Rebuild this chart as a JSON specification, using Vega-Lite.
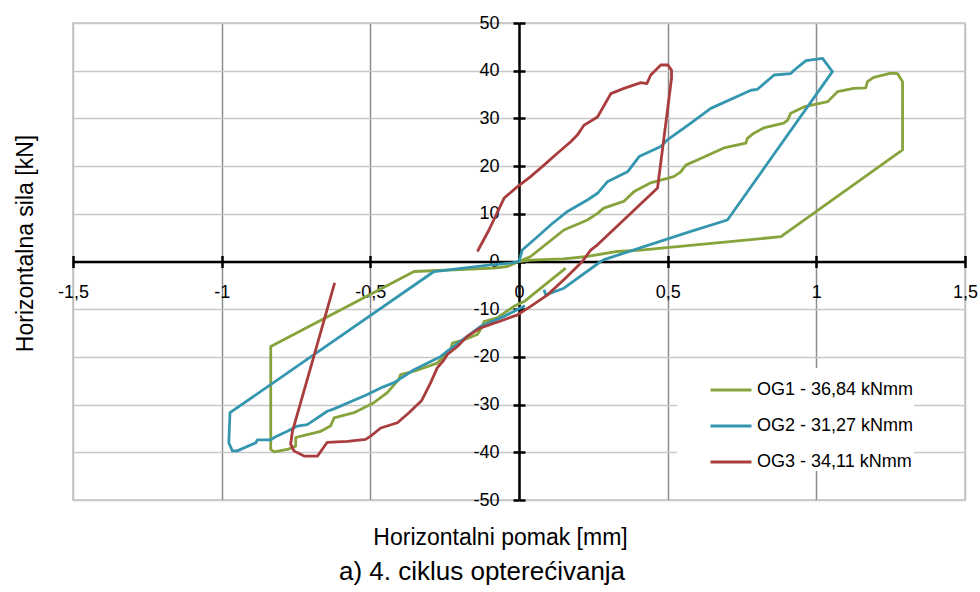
{
  "$schema": "https://vega.github.io/schema/vega-lite/v6.json",
  "width": 892,
  "height": 477,
  "autosize": {"type": "none"},
  "padding": {"left": 73, "top": 23, "right": 15, "bottom": 92},
  "background": "white",
  "config": {
    "view": {"stroke": "#c0c0c0", "strokeWidth": 1.5},
    "font": "Liberation Sans",
    "locale": {"number": {"decimal": ",", "thousands": ".", "grouping": [3], "currency": ["", " €"], "minus": "-"}}
  },
  "title": {"text": "a) 4. ciklus opterećivanja", "orient": "bottom", "fontSize": 26, "fontWeight": "normal", "font": "Liberation Sans", "color": "black", "offset": 9, "anchor": "middle", "dx": -37},
  "data": {"values": [
    {"s":"OG1 - 36,84 kNmm","i":0,"x":0.157,"y":-1.4},
    {"s":"OG1 - 36,84 kNmm","i":1,"x":0.017,"y":-8.4},
    {"s":"OG1 - 36,84 kNmm","i":2,"x":-0.017,"y":-9.4},
    {"s":"OG1 - 36,84 kNmm","i":3,"x":-0.073,"y":-11.8},
    {"s":"OG1 - 36,84 kNmm","i":4,"x":-0.118,"y":-12.6},
    {"s":"OG1 - 36,84 kNmm","i":5,"x":-0.123,"y":-13.6},
    {"s":"OG1 - 36,84 kNmm","i":6,"x":-0.14,"y":-15.3},
    {"s":"OG1 - 36,84 kNmm","i":7,"x":-0.185,"y":-16.4},
    {"s":"OG1 - 36,84 kNmm","i":8,"x":-0.224,"y":-17.1},
    {"s":"OG1 - 36,84 kNmm","i":9,"x":-0.23,"y":-18.5},
    {"s":"OG1 - 36,84 kNmm","i":10,"x":-0.275,"y":-21.3},
    {"s":"OG1 - 36,84 kNmm","i":11,"x":-0.353,"y":-23.0},
    {"s":"OG1 - 36,84 kNmm","i":12,"x":-0.398,"y":-23.7},
    {"s":"OG1 - 36,84 kNmm","i":13,"x":-0.404,"y":-24.7},
    {"s":"OG1 - 36,84 kNmm","i":14,"x":-0.443,"y":-27.5},
    {"s":"OG1 - 36,84 kNmm","i":15,"x":-0.488,"y":-29.6},
    {"s":"OG1 - 36,84 kNmm","i":16,"x":-0.555,"y":-31.7},
    {"s":"OG1 - 36,84 kNmm","i":17,"x":-0.622,"y":-32.8},
    {"s":"OG1 - 36,84 kNmm","i":18,"x":-0.634,"y":-34.5},
    {"s":"OG1 - 36,84 kNmm","i":19,"x":-0.667,"y":-35.6},
    {"s":"OG1 - 36,84 kNmm","i":20,"x":-0.712,"y":-36.3},
    {"s":"OG1 - 36,84 kNmm","i":21,"x":-0.751,"y":-36.9},
    {"s":"OG1 - 36,84 kNmm","i":22,"x":-0.751,"y":-38.7},
    {"s":"OG1 - 36,84 kNmm","i":23,"x":-0.779,"y":-39.4},
    {"s":"OG1 - 36,84 kNmm","i":24,"x":-0.824,"y":-39.9},
    {"s":"OG1 - 36,84 kNmm","i":25,"x":-0.835,"y":-39.4},
    {"s":"OG1 - 36,84 kNmm","i":26,"x":-0.835,"y":-17.8},
    {"s":"OG1 - 36,84 kNmm","i":27,"x":-0.353,"y":-2.1},
    {"s":"OG1 - 36,84 kNmm","i":28,"x":-0.084,"y":-1.4},
    {"s":"OG1 - 36,84 kNmm","i":29,"x":-0.039,"y":-1.05},
    {"s":"OG1 - 36,84 kNmm","i":30,"x":0.0,"y":0.0},
    {"s":"OG1 - 36,84 kNmm","i":31,"x":0.039,"y":1.05},
    {"s":"OG1 - 36,84 kNmm","i":32,"x":0.151,"y":6.6},
    {"s":"OG1 - 36,84 kNmm","i":33,"x":0.23,"y":8.7},
    {"s":"OG1 - 36,84 kNmm","i":34,"x":0.264,"y":10.1},
    {"s":"OG1 - 36,84 kNmm","i":35,"x":0.285,"y":11.2},
    {"s":"OG1 - 36,84 kNmm","i":36,"x":0.352,"y":12.6},
    {"s":"OG1 - 36,84 kNmm","i":37,"x":0.386,"y":14.6},
    {"s":"OG1 - 36,84 kNmm","i":38,"x":0.443,"y":16.5},
    {"s":"OG1 - 36,84 kNmm","i":39,"x":0.52,"y":17.8},
    {"s":"OG1 - 36,84 kNmm","i":40,"x":0.544,"y":18.8},
    {"s":"OG1 - 36,84 kNmm","i":41,"x":0.561,"y":20.2},
    {"s":"OG1 - 36,84 kNmm","i":42,"x":0.611,"y":21.6},
    {"s":"OG1 - 36,84 kNmm","i":43,"x":0.689,"y":23.8},
    {"s":"OG1 - 36,84 kNmm","i":44,"x":0.763,"y":24.8},
    {"s":"OG1 - 36,84 kNmm","i":45,"x":0.768,"y":25.8},
    {"s":"OG1 - 36,84 kNmm","i":46,"x":0.79,"y":26.9},
    {"s":"OG1 - 36,84 kNmm","i":47,"x":0.823,"y":28.0},
    {"s":"OG1 - 36,84 kNmm","i":48,"x":0.89,"y":29.0},
    {"s":"OG1 - 36,84 kNmm","i":49,"x":0.903,"y":29.6},
    {"s":"OG1 - 36,84 kNmm","i":50,"x":0.914,"y":31.1},
    {"s":"OG1 - 36,84 kNmm","i":51,"x":0.958,"y":32.4},
    {"s":"OG1 - 36,84 kNmm","i":52,"x":1.038,"y":33.5},
    {"s":"OG1 - 36,84 kNmm","i":53,"x":1.049,"y":34.2},
    {"s":"OG1 - 36,84 kNmm","i":54,"x":1.071,"y":35.6},
    {"s":"OG1 - 36,84 kNmm","i":55,"x":1.126,"y":36.3},
    {"s":"OG1 - 36,84 kNmm","i":56,"x":1.166,"y":36.4},
    {"s":"OG1 - 36,84 kNmm","i":57,"x":1.172,"y":37.7},
    {"s":"OG1 - 36,84 kNmm","i":58,"x":1.193,"y":38.6},
    {"s":"OG1 - 36,84 kNmm","i":59,"x":1.251,"y":39.5},
    {"s":"OG1 - 36,84 kNmm","i":60,"x":1.273,"y":39.4},
    {"s":"OG1 - 36,84 kNmm","i":61,"x":1.29,"y":37.7},
    {"s":"OG1 - 36,84 kNmm","i":62,"x":1.29,"y":23.4},
    {"s":"OG1 - 36,84 kNmm","i":63,"x":0.881,"y":5.2},
    {"s":"OG1 - 36,84 kNmm","i":64,"x":0.409,"y":2.4},
    {"s":"OG1 - 36,84 kNmm","i":65,"x":0.331,"y":2.1},
    {"s":"OG1 - 36,84 kNmm","i":66,"x":0.23,"y":1.05},
    {"s":"OG1 - 36,84 kNmm","i":67,"x":0.15,"y":0.55},
    {"s":"OG1 - 36,84 kNmm","i":68,"x":0.04,"y":0.3},
    {"s":"OG1 - 36,84 kNmm","i":69,"x":0.0,"y":0.0},

    {"s":"OG2 - 31,27 kNmm","i":0,"x":0.02,"y":-9.3},
    {"s":"OG2 - 31,27 kNmm","i":1,"x":-0.05,"y":-11.5},
    {"s":"OG2 - 31,27 kNmm","i":2,"x":-0.129,"y":-13.6},
    {"s":"OG2 - 31,27 kNmm","i":3,"x":-0.241,"y":-18.8},
    {"s":"OG2 - 31,27 kNmm","i":4,"x":-0.263,"y":-19.9},
    {"s":"OG2 - 31,27 kNmm","i":5,"x":-0.353,"y":-22.7},
    {"s":"OG2 - 31,27 kNmm","i":6,"x":-0.42,"y":-25.4},
    {"s":"OG2 - 31,27 kNmm","i":7,"x":-0.465,"y":-26.5},
    {"s":"OG2 - 31,27 kNmm","i":8,"x":-0.51,"y":-27.9},
    {"s":"OG2 - 31,27 kNmm","i":9,"x":-0.622,"y":-30.9},
    {"s":"OG2 - 31,27 kNmm","i":10,"x":-0.645,"y":-31.4},
    {"s":"OG2 - 31,27 kNmm","i":11,"x":-0.712,"y":-34.2},
    {"s":"OG2 - 31,27 kNmm","i":12,"x":-0.746,"y":-34.5},
    {"s":"OG2 - 31,27 kNmm","i":13,"x":-0.779,"y":-35.6},
    {"s":"OG2 - 31,27 kNmm","i":14,"x":-0.824,"y":-36.9},
    {"s":"OG2 - 31,27 kNmm","i":15,"x":-0.835,"y":-37.4},
    {"s":"OG2 - 31,27 kNmm","i":16,"x":-0.88,"y":-37.4},
    {"s":"OG2 - 31,27 kNmm","i":17,"x":-0.885,"y":-38.0},
    {"s":"OG2 - 31,27 kNmm","i":18,"x":-0.948,"y":-39.7},
    {"s":"OG2 - 31,27 kNmm","i":19,"x":-0.964,"y":-39.7},
    {"s":"OG2 - 31,27 kNmm","i":20,"x":-0.976,"y":-38.0},
    {"s":"OG2 - 31,27 kNmm","i":21,"x":-0.972,"y":-31.7},
    {"s":"OG2 - 31,27 kNmm","i":22,"x":-0.286,"y":-2.1},
    {"s":"OG2 - 31,27 kNmm","i":23,"x":-0.095,"y":-0.7},
    {"s":"OG2 - 31,27 kNmm","i":24,"x":-0.022,"y":-0.3},
    {"s":"OG2 - 31,27 kNmm","i":25,"x":0.0,"y":0.0},
    {"s":"OG2 - 31,27 kNmm","i":26,"x":0.011,"y":2.4},
    {"s":"OG2 - 31,27 kNmm","i":27,"x":0.062,"y":5.2},
    {"s":"OG2 - 31,27 kNmm","i":28,"x":0.107,"y":7.7},
    {"s":"OG2 - 31,27 kNmm","i":29,"x":0.163,"y":10.5},
    {"s":"OG2 - 31,27 kNmm","i":30,"x":0.23,"y":12.9},
    {"s":"OG2 - 31,27 kNmm","i":31,"x":0.264,"y":14.3},
    {"s":"OG2 - 31,27 kNmm","i":32,"x":0.297,"y":16.7},
    {"s":"OG2 - 31,27 kNmm","i":33,"x":0.365,"y":18.8},
    {"s":"OG2 - 31,27 kNmm","i":34,"x":0.404,"y":22.0},
    {"s":"OG2 - 31,27 kNmm","i":35,"x":0.477,"y":24.1},
    {"s":"OG2 - 31,27 kNmm","i":36,"x":0.499,"y":25.5},
    {"s":"OG2 - 31,27 kNmm","i":37,"x":0.578,"y":29.0},
    {"s":"OG2 - 31,27 kNmm","i":38,"x":0.645,"y":32.1},
    {"s":"OG2 - 31,27 kNmm","i":39,"x":0.78,"y":35.9},
    {"s":"OG2 - 31,27 kNmm","i":40,"x":0.802,"y":36.1},
    {"s":"OG2 - 31,27 kNmm","i":41,"x":0.858,"y":39.1},
    {"s":"OG2 - 31,27 kNmm","i":42,"x":0.914,"y":39.4},
    {"s":"OG2 - 31,27 kNmm","i":43,"x":0.925,"y":40.1},
    {"s":"OG2 - 31,27 kNmm","i":44,"x":0.965,"y":42.1},
    {"s":"OG2 - 31,27 kNmm","i":45,"x":1.021,"y":42.6},
    {"s":"OG2 - 31,27 kNmm","i":46,"x":1.054,"y":39.8},
    {"s":"OG2 - 31,27 kNmm","i":47,"x":0.701,"y":8.7},
    {"s":"OG2 - 31,27 kNmm","i":48,"x":0.578,"y":6.3},
    {"s":"OG2 - 31,27 kNmm","i":49,"x":0.286,"y":0.4},
    {"s":"OG2 - 31,27 kNmm","i":50,"x":0.275,"y":0.0},
    {"s":"OG2 - 31,27 kNmm","i":51,"x":0.151,"y":-5.6},
    {"s":"OG2 - 31,27 kNmm","i":52,"x":0.09,"y":-7.0},
    {"s":"OG2 - 31,27 kNmm","i":53,"x":0.084,"y":-5.9},

    {"s":"OG3 - 34,11 kNmm","i":0,"x":-0.14,"y":2.1},
    {"s":"OG3 - 34,11 kNmm","i":1,"x":-0.101,"y":6.6},
    {"s":"OG3 - 34,11 kNmm","i":2,"x":-0.05,"y":13.3},
    {"s":"OG3 - 34,11 kNmm","i":3,"x":-0.005,"y":15.7},
    {"s":"OG3 - 34,11 kNmm","i":4,"x":0.039,"y":17.8},
    {"s":"OG3 - 34,11 kNmm","i":5,"x":0.084,"y":20.2},
    {"s":"OG3 - 34,11 kNmm","i":6,"x":0.129,"y":22.7},
    {"s":"OG3 - 34,11 kNmm","i":7,"x":0.174,"y":25.1},
    {"s":"OG3 - 34,11 kNmm","i":8,"x":0.196,"y":26.5},
    {"s":"OG3 - 34,11 kNmm","i":9,"x":0.219,"y":28.6},
    {"s":"OG3 - 34,11 kNmm","i":10,"x":0.264,"y":30.3},
    {"s":"OG3 - 34,11 kNmm","i":11,"x":0.309,"y":35.2},
    {"s":"OG3 - 34,11 kNmm","i":12,"x":0.353,"y":36.3},
    {"s":"OG3 - 34,11 kNmm","i":13,"x":0.41,"y":37.5},
    {"s":"OG3 - 34,11 kNmm","i":14,"x":0.43,"y":37.3},
    {"s":"OG3 - 34,11 kNmm","i":15,"x":0.443,"y":39.1},
    {"s":"OG3 - 34,11 kNmm","i":16,"x":0.477,"y":41.2},
    {"s":"OG3 - 34,11 kNmm","i":17,"x":0.501,"y":41.2},
    {"s":"OG3 - 34,11 kNmm","i":18,"x":0.513,"y":40.1},
    {"s":"OG3 - 34,11 kNmm","i":19,"x":0.513,"y":38.4},
    {"s":"OG3 - 34,11 kNmm","i":20,"x":0.466,"y":15.4},
    {"s":"OG3 - 34,11 kNmm","i":21,"x":0.264,"y":3.5},
    {"s":"OG3 - 34,11 kNmm","i":22,"x":0.241,"y":2.4},
    {"s":"OG3 - 34,11 kNmm","i":23,"x":0.213,"y":0.0},
    {"s":"OG3 - 34,11 kNmm","i":24,"x":0.163,"y":-3.1},
    {"s":"OG3 - 34,11 kNmm","i":25,"x":0.096,"y":-7.0},
    {"s":"OG3 - 34,11 kNmm","i":26,"x":0.039,"y":-9.4},
    {"s":"OG3 - 34,11 kNmm","i":27,"x":-0.005,"y":-11.2},
    {"s":"OG3 - 34,11 kNmm","i":28,"x":-0.05,"y":-12.2},
    {"s":"OG3 - 34,11 kNmm","i":29,"x":-0.129,"y":-13.9},
    {"s":"OG3 - 34,11 kNmm","i":30,"x":-0.174,"y":-15.7},
    {"s":"OG3 - 34,11 kNmm","i":31,"x":-0.207,"y":-17.8},
    {"s":"OG3 - 34,11 kNmm","i":32,"x":-0.241,"y":-19.5},
    {"s":"OG3 - 34,11 kNmm","i":33,"x":-0.252,"y":-20.6},
    {"s":"OG3 - 34,11 kNmm","i":34,"x":-0.275,"y":-22.3},
    {"s":"OG3 - 34,11 kNmm","i":35,"x":-0.297,"y":-25.4},
    {"s":"OG3 - 34,11 kNmm","i":36,"x":-0.328,"y":-29.2},
    {"s":"OG3 - 34,11 kNmm","i":37,"x":-0.37,"y":-31.7},
    {"s":"OG3 - 34,11 kNmm","i":38,"x":-0.409,"y":-33.8},
    {"s":"OG3 - 34,11 kNmm","i":39,"x":-0.465,"y":-34.9},
    {"s":"OG3 - 34,11 kNmm","i":40,"x":-0.499,"y":-36.6},
    {"s":"OG3 - 34,11 kNmm","i":41,"x":-0.516,"y":-37.3},
    {"s":"OG3 - 34,11 kNmm","i":42,"x":-0.577,"y":-37.7},
    {"s":"OG3 - 34,11 kNmm","i":43,"x":-0.645,"y":-37.9},
    {"s":"OG3 - 34,11 kNmm","i":44,"x":-0.662,"y":-39.4},
    {"s":"OG3 - 34,11 kNmm","i":45,"x":-0.678,"y":-40.8},
    {"s":"OG3 - 34,11 kNmm","i":46,"x":-0.723,"y":-40.8},
    {"s":"OG3 - 34,11 kNmm","i":47,"x":-0.757,"y":-39.7},
    {"s":"OG3 - 34,11 kNmm","i":48,"x":-0.768,"y":-38.3},
    {"s":"OG3 - 34,11 kNmm","i":49,"x":-0.762,"y":-35.6},
    {"s":"OG3 - 34,11 kNmm","i":50,"x":-0.69,"y":-19.9},
    {"s":"OG3 - 34,11 kNmm","i":51,"x":-0.62,"y":-4.5}
  ]},
  "resolve": {"axis": {"x": "independent", "y": "independent"}},
  "layer": [
    {
      "mark": {"type": "line", "strokeWidth": 2.8, "strokeJoin": "round"},
      "encoding": {
        "x": {"field": "x", "type": "quantitative",
          "scale": {"domain": [-1.5, 1.5], "nice": false, "zero": false},
          "axis": {"orient": "bottom", "offset": -238.5, "values": [-1.5, -1, -0.5, 0, 0.5, 1, 1.5], "format": "~g",
            "grid": true, "gridColor": {"condition": {"test": "abs(datum.value) > 1.4", "value": "#c0c0c0"}, "value": "#8c8c8c"}, "gridWidth": 1.5,
            "domainColor": "black", "domainWidth": 2.5, "tickColor": "black", "tickWidth": 2.5, "tickSize": 6,
            "labelFontSize": 18, "labelColor": "black", "labelPadding": 16, "labelFlush": false, "labelOverlap": false, "labelBound": false,
            "title": "Horizontalni pomak [mm]", "titleFontSize": 23, "titleFontWeight": "normal", "titleColor": "black",
            "titleX": 427, "titleY": 276, "titleBaseline": "middle", "titleAlign": "center", "titleAnchor": "start"}},
        "y": {"field": "y", "type": "quantitative",
          "scale": {"domain": [-50, 50], "nice": false, "zero": false},
          "axis": {"orient": "left", "offset": -446, "values": [-50, -40, -30, -20, -10, 0, 10, 20, 30, 40, 50], "format": "d",
            "grid": true, "gridColor": "#c8c8c8", "gridWidth": 1.5,
            "domainColor": "black", "domainWidth": 2.5, "tickColor": "black", "tickWidth": 2.5, "tickSize": 6,
            "labelFontSize": 18, "labelColor": "black", "labelPadding": 14, "labelFlush": false, "labelOverlap": false, "labelBound": false,
            "title": "Horizontalna sila [kN]", "titleFontSize": 23, "titleFontWeight": "normal", "titleColor": "black",
            "titleX": -494, "titleY": 220, "titleAngle": -90, "titleBaseline": "middle", "titleAlign": "center", "titleAnchor": "start"}},
        "order": {"field": "i", "type": "quantitative"},
        "color": {"field": "s", "type": "nominal",
          "scale": {"domain": ["OG1 - 36,84 kNmm", "OG2 - 31,27 kNmm", "OG3 - 34,11 kNmm"], "range": ["#86a33c", "#3596b0", "#a93d3d"]},
          "legend": {"orient": "none", "legendX": 604, "legendY": 345, "title": null, "fillColor": "white", "padding": 0,
            "symbolType": "stroke", "symbolSize": 1681, "symbolStrokeWidth": 3, "symbolOffset": 32,
            "labelFontSize": 18, "labelColor": "black", "labelOffset": 4, "rowPadding": 5}}
      }
    },
    {
      "mark": {"type": "point", "opacity": 0},
      "encoding": {
        "x": {"field": "x", "type": "quantitative",
          "axis": {"orient": "top", "offset": -238.5, "values": [-1.5, -1, -0.5, 0, 0.5, 1, 1.5], "labels": false, "grid": false, "domain": false,
            "tickColor": "black", "tickWidth": 2.5, "tickSize": 6, "title": null}},
        "y": {"field": "y", "type": "quantitative",
          "axis": {"orient": "right", "offset": -446, "values": [-50, -40, -30, -20, -10, 0, 10, 20, 30, 40, 50], "labels": false, "grid": false, "domain": false,
            "tickColor": "black", "tickWidth": 2.5, "tickSize": 6, "title": null}}
      }
    }
  ]
}
